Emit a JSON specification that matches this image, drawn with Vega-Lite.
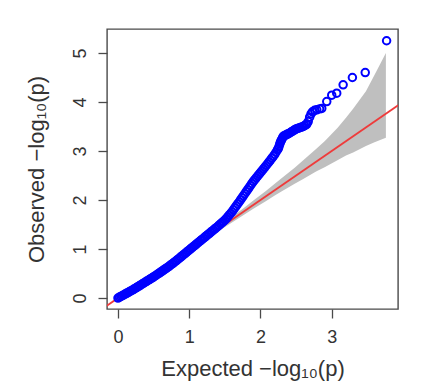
{
  "$schema": "https://vega.github.io/schema/vega-lite/v6.json",
  "width": 291,
  "height": 280,
  "autosize": {"type": "none"},
  "padding": {"left": 107, "top": 29, "right": 27, "bottom": 76},
  "background": "white",
  "config": {
    "view": {"stroke": "#4a4a4a", "strokeWidth": 1.4},
    "font": "Liberation Sans",
    "axis": {
      "grid": false,
      "domain": false,
      "tickColor": "#4a4a4a",
      "tickWidth": 1.3,
      "tickSize": 9,
      "labelColor": "#333333",
      "labelFontSize": 18,
      "titleColor": "#333333",
      "titleFontSize": 22,
      "titleFontWeight": "normal"
    }
  },
  "datasets": {
    "qq": [
      {"e": 0.00, "o": 0.000}, {"e": 0.02, "o": 0.016}, {"e": 0.04, "o": 0.032}, {"e": 0.06, "o": 0.048}, {"e": 0.08, "o": 0.064},
      {"e": 0.10, "o": 0.080}, {"e": 0.12, "o": 0.096}, {"e": 0.14, "o": 0.112}, {"e": 0.16, "o": 0.128}, {"e": 0.18, "o": 0.144},
      {"e": 0.20, "o": 0.160}, {"e": 0.22, "o": 0.178}, {"e": 0.24, "o": 0.196}, {"e": 0.26, "o": 0.214}, {"e": 0.28, "o": 0.232},
      {"e": 0.30, "o": 0.250}, {"e": 0.32, "o": 0.268}, {"e": 0.34, "o": 0.286}, {"e": 0.36, "o": 0.304}, {"e": 0.38, "o": 0.322},
      {"e": 0.40, "o": 0.340}, {"e": 0.42, "o": 0.358}, {"e": 0.44, "o": 0.376}, {"e": 0.46, "o": 0.394}, {"e": 0.48, "o": 0.412},
      {"e": 0.50, "o": 0.430}, {"e": 0.52, "o": 0.450}, {"e": 0.54, "o": 0.470}, {"e": 0.56, "o": 0.490}, {"e": 0.58, "o": 0.510},
      {"e": 0.60, "o": 0.530}, {"e": 0.62, "o": 0.550}, {"e": 0.64, "o": 0.570}, {"e": 0.66, "o": 0.590}, {"e": 0.68, "o": 0.610},
      {"e": 0.70, "o": 0.630}, {"e": 0.72, "o": 0.652}, {"e": 0.74, "o": 0.674}, {"e": 0.76, "o": 0.696}, {"e": 0.78, "o": 0.718},
      {"e": 0.80, "o": 0.740}, {"e": 0.82, "o": 0.764}, {"e": 0.84, "o": 0.788}, {"e": 0.86, "o": 0.812}, {"e": 0.88, "o": 0.836},
      {"e": 0.90, "o": 0.860}, {"e": 0.92, "o": 0.884}, {"e": 0.94, "o": 0.908}, {"e": 0.96, "o": 0.932}, {"e": 0.98, "o": 0.956},
      {"e": 1.00, "o": 0.980}, {"e": 1.02, "o": 1.004}, {"e": 1.04, "o": 1.028}, {"e": 1.06, "o": 1.052}, {"e": 1.08, "o": 1.076},
      {"e": 1.10, "o": 1.100}, {"e": 1.12, "o": 1.124}, {"e": 1.14, "o": 1.148}, {"e": 1.16, "o": 1.172}, {"e": 1.18, "o": 1.196},
      {"e": 1.20, "o": 1.220}, {"e": 1.22, "o": 1.244}, {"e": 1.24, "o": 1.268}, {"e": 1.26, "o": 1.292}, {"e": 1.28, "o": 1.316},
      {"e": 1.30, "o": 1.340}, {"e": 1.32, "o": 1.364}, {"e": 1.34, "o": 1.388}, {"e": 1.36, "o": 1.412}, {"e": 1.38, "o": 1.436},
      {"e": 1.40, "o": 1.460}, {"e": 1.42, "o": 1.486}, {"e": 1.44, "o": 1.512}, {"e": 1.46, "o": 1.538}, {"e": 1.48, "o": 1.564},
      {"e": 1.50, "o": 1.590}, {"e": 1.52, "o": 1.620}, {"e": 1.54, "o": 1.655}, {"e": 1.56, "o": 1.690}, {"e": 1.58, "o": 1.725},
      {"e": 1.60, "o": 1.760}, {"e": 1.62, "o": 1.800}, {"e": 1.64, "o": 1.840}, {"e": 1.66, "o": 1.880}, {"e": 1.68, "o": 1.920},
      {"e": 1.70, "o": 1.960}, {"e": 1.72, "o": 2.002}, {"e": 1.74, "o": 2.044}, {"e": 1.76, "o": 2.086}, {"e": 1.78, "o": 2.128},
      {"e": 1.80, "o": 2.170}, {"e": 1.82, "o": 2.212}, {"e": 1.84, "o": 2.254}, {"e": 1.86, "o": 2.296}, {"e": 1.88, "o": 2.338},
      {"e": 1.90, "o": 2.380}, {"e": 1.92, "o": 2.416}, {"e": 1.94, "o": 2.452}, {"e": 1.96, "o": 2.488}, {"e": 1.98, "o": 2.524},
      {"e": 2.00, "o": 2.560}, {"e": 2.02, "o": 2.596}, {"e": 2.04, "o": 2.632}, {"e": 2.06, "o": 2.668}, {"e": 2.08, "o": 2.704},
      {"e": 2.10, "o": 2.740}, {"e": 2.12, "o": 2.778}, {"e": 2.14, "o": 2.816}, {"e": 2.16, "o": 2.854}, {"e": 2.18, "o": 2.892},
      {"e": 2.20, "o": 2.930}, {"e": 2.22, "o": 2.980}, {"e": 2.24, "o": 3.030}, {"e": 2.25, "o": 3.050}, {"e": 2.26, "o": 3.090},
      {"e": 2.27, "o": 3.140}, {"e": 2.28, "o": 3.180}, {"e": 2.29, "o": 3.210}, {"e": 2.30, "o": 3.240}, {"e": 2.31, "o": 3.270},
      {"e": 2.32, "o": 3.300}, {"e": 2.34, "o": 3.315}, {"e": 2.36, "o": 3.330}, {"e": 2.38, "o": 3.345}, {"e": 2.40, "o": 3.360},
      {"e": 2.42, "o": 3.378}, {"e": 2.44, "o": 3.396}, {"e": 2.46, "o": 3.414}, {"e": 2.48, "o": 3.432}, {"e": 2.50, "o": 3.450},
      {"e": 2.52, "o": 3.460}, {"e": 2.54, "o": 3.470}, {"e": 2.56, "o": 3.480}, {"e": 2.58, "o": 3.490}, {"e": 2.60, "o": 3.500},
      {"e": 2.62, "o": 3.520}, {"e": 2.64, "o": 3.540}, {"e": 2.65, "o": 3.550}, {"e": 2.67, "o": 3.600}, {"e": 2.69, "o": 3.690},
      {"e": 2.71, "o": 3.760}, {"e": 2.73, "o": 3.800}, {"e": 2.76, "o": 3.830}, {"e": 2.79, "o": 3.840}, {"e": 2.83, "o": 3.860},
      {"e": 2.86, "o": 3.870}, {"e": 2.93, "o": 4.010}, {"e": 3.00, "o": 4.140}, {"e": 3.07, "o": 4.180}, {"e": 3.16, "o": 4.350},
      {"e": 3.29, "o": 4.500}, {"e": 3.47, "o": 4.600}, {"e": 3.77, "o": 5.250}
    ],
    "band": [
      {"e": 1.30, "lo": 1.27, "hi": 1.33}, {"e": 1.40, "lo": 1.36, "hi": 1.44}, {"e": 1.48, "lo": 1.43, "hi": 1.53},
      {"e": 1.60, "lo": 1.54, "hi": 1.66}, {"e": 1.78, "lo": 1.71, "hi": 1.85}, {"e": 1.90, "lo": 1.82, "hi": 1.99},
      {"e": 2.08, "lo": 1.98, "hi": 2.19}, {"e": 2.20, "lo": 2.09, "hi": 2.33}, {"e": 2.30, "lo": 2.18, "hi": 2.45},
      {"e": 2.48, "lo": 2.33, "hi": 2.66}, {"e": 2.60, "lo": 2.43, "hi": 2.81}, {"e": 2.78, "lo": 2.58, "hi": 3.04},
      {"e": 2.90, "lo": 2.67, "hi": 3.20}, {"e": 3.08, "lo": 2.81, "hi": 3.47}, {"e": 3.20, "lo": 2.91, "hi": 3.68},
      {"e": 3.30, "lo": 2.97, "hi": 3.86}, {"e": 3.48, "lo": 3.10, "hi": 4.22}, {"e": 3.60, "lo": 3.18, "hi": 4.55},
      {"e": 3.76, "lo": 3.27, "hi": 5.00}
    ],
    "diag": [{"e": -1, "o": -1}, {"e": 5, "o": 5}]
  },
  "layer": [
    {
      "data": {"name": "band"},
      "mark": {"type": "area", "color": "#bfbfbf", "clip": true},
      "encoding": {
        "x": {"field": "e", "type": "quantitative", "scale": {"domain": [-0.154, 3.93], "nice": false, "zero": false},
              "axis": {"values": [0, 1, 2, 3], "format": "d", "title": "Expected −log₁₀(p)", "labelPadding": 10, "titlePadding": 12}},
        "y": {"field": "hi", "type": "quantitative", "scale": {"domain": [-0.224, 5.49], "nice": false, "zero": false},
              "axis": {"values": [0, 1, 2, 3, 4, 5], "format": "d", "title": "Observed −log₁₀(p)", "labelAngle": -90, "labelAlign": "center", "labelBaseline": "middle", "labelPadding": 18, "titlePadding": 23}},
        "y2": {"field": "lo"}
      }
    },
    {
      "data": {"name": "diag"},
      "mark": {"type": "line", "color": "#ee3b3b", "strokeWidth": 1.8, "clip": true},
      "encoding": {
        "x": {"field": "e", "type": "quantitative"},
        "y": {"field": "o", "type": "quantitative"}
      }
    },
    {
      "data": {"name": "qq"},
      "mark": {"type": "point", "shape": "circle", "filled": false, "color": "#0000ff", "size": 56, "strokeWidth": 2, "opacity": 1},
      "encoding": {
        "x": {"field": "e", "type": "quantitative"},
        "y": {"field": "o", "type": "quantitative"}
      }
    }
  ]
}
